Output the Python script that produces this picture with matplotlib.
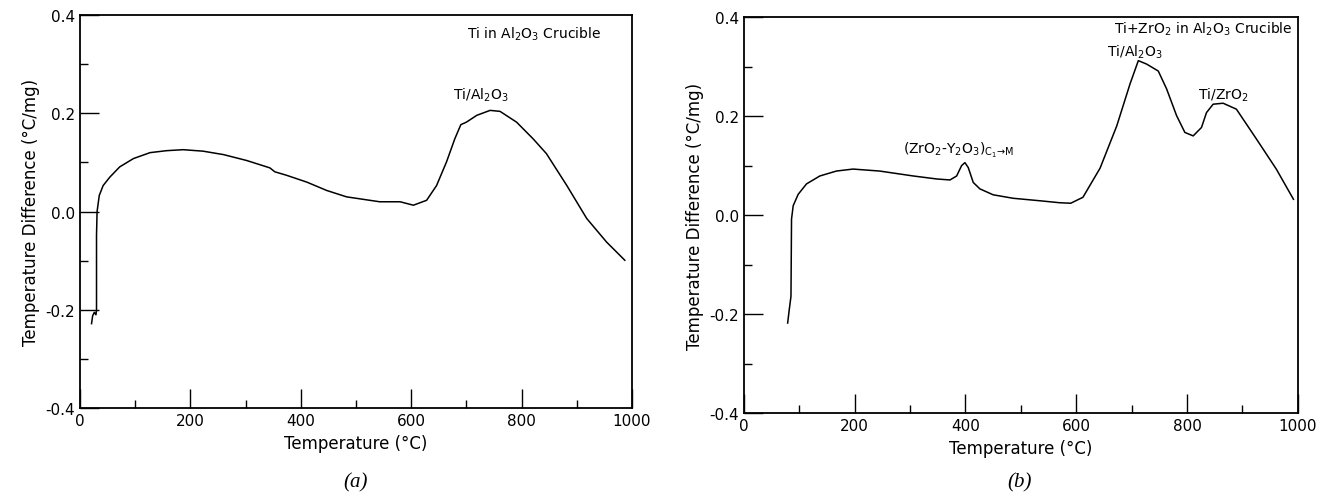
import numpy as np
import matplotlib.pyplot as plt
from matplotlib.ticker import MultipleLocator

plt.rcParams['axes.unicode_minus'] = False
plt.rcParams['font.family'] = 'DejaVu Sans'

# (a) Ti in Al2O3 crucible
temp_a = [21, 23, 26, 29, 30, 30, 31, 35, 42, 54, 72, 97, 127, 157, 187, 223, 260,
          302, 344, 353, 374, 411, 447, 483, 507, 543, 580, 604, 628, 646, 664,
          679, 690, 700, 719, 743, 761, 791, 821, 845, 882, 918, 954, 987]
diff_a = [-0.228, -0.212, -0.205, -0.21, -0.2, -0.048, 0.0, 0.033, 0.053, 0.070,
          0.091, 0.108, 0.120, 0.124, 0.126, 0.123, 0.116, 0.104, 0.089, 0.081,
          0.074, 0.060, 0.043, 0.030, 0.026, 0.020, 0.020, 0.013, 0.023, 0.053,
          0.101, 0.148, 0.177, 0.182, 0.196, 0.206, 0.204, 0.182, 0.148, 0.118,
          0.053, -0.014, -0.062, -0.099]

# (b) Ti+ZrO2 in Al2O3 crucible
temp_b = [79, 82, 85, 86, 89, 98, 113, 137, 167, 197, 245, 306, 348, 372, 384, 393,
          399, 405, 414, 426, 450, 486, 534, 570, 590, 612, 643, 673, 697, 712, 727,
          748, 763, 781, 796, 811, 826, 835, 847, 865, 889, 925, 961, 992]
diff_b = [-0.218, -0.19, -0.164, -0.008, 0.019, 0.042, 0.063, 0.079, 0.089, 0.093,
          0.089, 0.079, 0.073, 0.071, 0.079, 0.100, 0.106, 0.096, 0.066, 0.053,
          0.041, 0.034, 0.029, 0.025, 0.024, 0.036, 0.095, 0.180, 0.265, 0.312,
          0.305, 0.291, 0.255, 0.201, 0.167, 0.160, 0.177, 0.207, 0.224, 0.226,
          0.214, 0.154, 0.093, 0.032]

fig = plt.figure(figsize=(13.26, 5.02), dpi=100)
ax1 = fig.add_axes([0.0603, 0.185, 0.4163, 0.783])
ax2 = fig.add_axes([0.561, 0.175, 0.4178, 0.789])

for ax in (ax1, ax2):
    ax.set_xlim(0, 1000)
    ax.set_ylim(-0.4, 0.4)
    ax.xaxis.set_major_locator(MultipleLocator(200))
    ax.xaxis.set_minor_locator(MultipleLocator(100))
    ax.yaxis.set_major_locator(MultipleLocator(0.2))
    ax.yaxis.set_minor_locator(MultipleLocator(0.1))
    ax.yaxis.set_major_formatter(plt.FormatStrFormatter('%.1f'))
    ax.tick_params(which='both', direction='in', top=False, right=False,
                   labelsize=11, width=1.0)
    ax.tick_params(which='major', length=14)
    ax.tick_params(which='minor', length=6)
    for s in ax.spines.values():
        s.set_linewidth(1.3)
    ax.set_xlabel('Temperature (°C)', fontsize=12)
    ax.set_ylabel('Temperature Difference (°C/mg)', fontsize=12)

ax1.plot(temp_a, diff_a, color='black', lw=1.1)
ax2.plot(temp_b, diff_b, color='black', lw=1.1)

ax1.text(701, 0.363, r'Ti in Al$_2$O$_3$ Crucible', fontsize=10, va='center')
ax1.text(676, 0.238, r'Ti/Al$_2$O$_3$', fontsize=10, va='center')

ax2.text(990, 0.378, r'Ti+ZrO$_2$ in Al$_2$O$_3$ Crucible', fontsize=10,
         va='center', ha='right')
ax2.text(706, 0.331, r'Ti/Al$_2$O$_3$', fontsize=10, va='center', ha='center')
ax2.text(865, 0.245, r'Ti/ZrO$_2$', fontsize=10, va='center', ha='center')
ax2.text(287, 0.133, r'(ZrO$_2$-Y$_2$O$_3$)$_{\mathrm{C_1\!\rightarrow\!M}}$',
         fontsize=10, va='center')

fig.text(0.268, 0.038, '(a)', fontsize=15, style='italic', family='Liberation Serif',
         ha='center', va='center')
fig.text(0.769, 0.038, '(b)', fontsize=15, style='italic', family='Liberation Serif',
         ha='center', va='center')

plt.savefig('out.png', dpi=100)
